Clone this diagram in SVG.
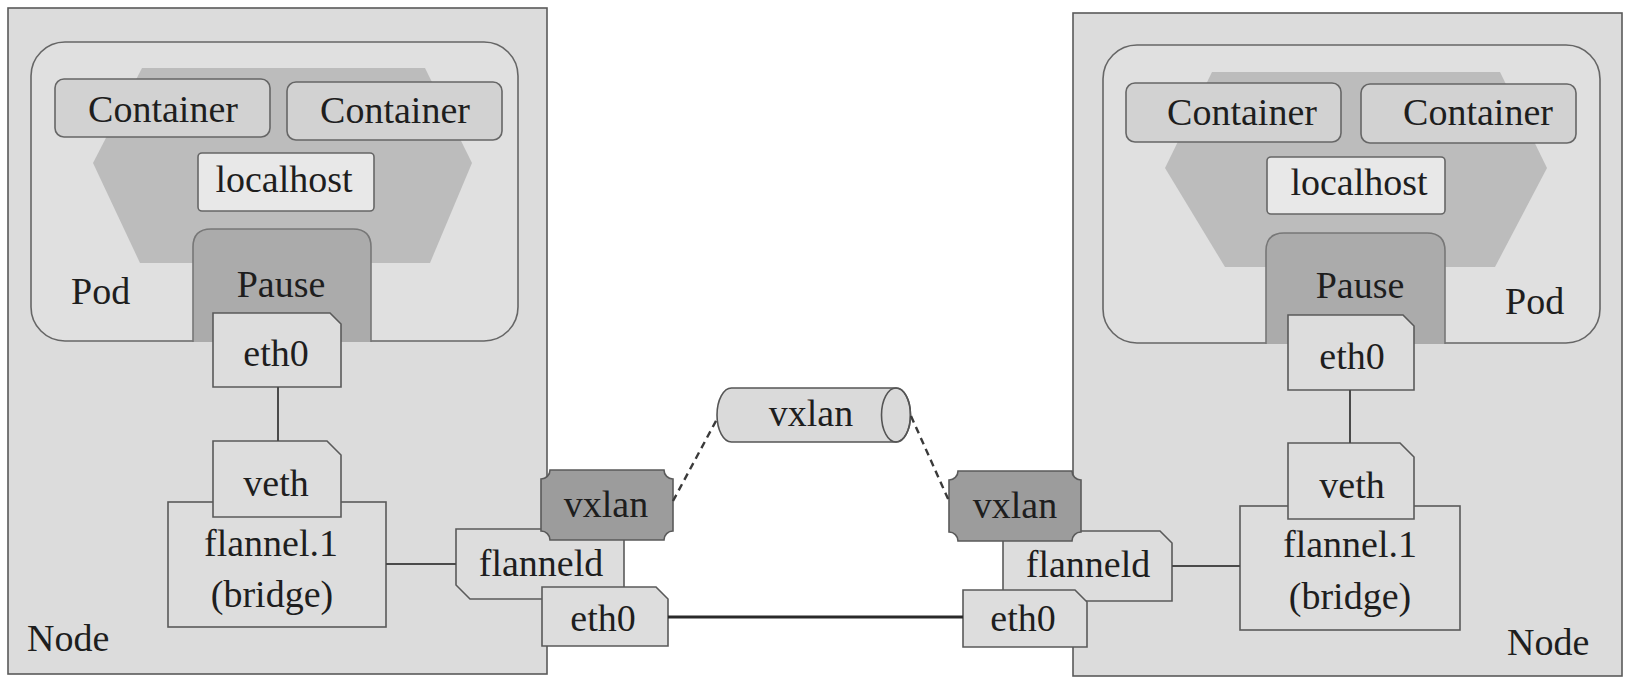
<svg xmlns="http://www.w3.org/2000/svg" width="1632" height="688" viewBox="0 0 1632 688">
<style>
text{font-family:"Liberation Serif","Times New Roman",serif;font-size:38px;fill:#1e1e1e}
.m{text-anchor:middle}
.node{fill:#dcdcdc;stroke:#5a5a5a;stroke-width:1.6}
.pod{fill:#e0e0e0;stroke:#666;stroke-width:1.6}
.hex{fill:#bcbcbc;stroke:none}
.ctr{fill:#d2d2d2;stroke:#666;stroke-width:1.6}
.lh{fill:#e8e8e8;stroke:#666;stroke-width:1.6}
.pause{fill:#ababab;stroke:#777;stroke-width:1.6}
.box{fill:#dddddd;stroke:#5a5a5a;stroke-width:1.6}
.vx{fill:#9c9c9c;stroke:#5a5a5a;stroke-width:1.6}
.cyl{fill:#dadada;stroke:#555;stroke-width:1.6}
.ln{stroke:#4a4a4a;stroke-width:2;fill:none}
.thick{stroke:#2a2a2a;stroke-width:3.2;fill:none}
.dash{stroke:#3a3a3a;stroke-width:2.4;stroke-dasharray:7 5;fill:none}
</style>
<rect width="1632" height="688" fill="#ffffff"/>

<g id="node-left">
<rect class="node" x="8" y="8" width="539" height="666"/>
<text x="27" y="651">Node</text>
</g>
<g id="node-right">
<rect class="node" x="1073" y="13" width="549" height="663"/>
<text x="1507" y="655">Node</text>
</g>

<g id="pod-left">
<rect class="pod" x="31" y="42" width="487" height="299" rx="34"/>
<polygon class="hex" points="142,68 425,68 472,163 430,263 140,263 93,163"/>
<text x="71" y="304">Pod</text>
</g>
<g id="container-l1"><rect class="ctr" x="55" y="79" width="215" height="58" rx="9"/><text class="m" x="163" y="122">Container</text></g>
<g id="container-l2"><rect class="ctr" x="287" y="82" width="215" height="58" rx="9"/><text class="m" x="395" y="123">Container</text></g>
<g id="localhost-l"><rect class="lh" x="198" y="153" width="176" height="58" rx="4"/><text class="m" x="284" y="192">localhost</text></g>
<g id="pause-l"><path class="pause" d="M193,342 V247 Q193,229 211,229 H353 Q371,229 371,247 V342"/><text class="m" x="281" y="297">Pause</text></g>
<g id="eth0-pod-l"><path class="box" d="M213,313 H330 L341,324 V387 H213 Z"/><text class="m" x="276" y="366">eth0</text></g>
<g id="bridge-l"><rect class="box" x="168" y="502" width="218" height="125"/><text class="m" x="271" y="556">flannel.1</text><text class="m" x="272" y="607">(bridge)</text></g>
<g id="veth-l"><path class="box" d="M213,441 H327 L341,455 V517 H213 Z"/><text class="m" x="276" y="496">veth</text></g>
<g id="flanneld-l"><path class="box" d="M456,529 H624 V599 H470 L456,585 Z"/><text class="m" x="541" y="576">flanneld</text></g>
<g id="eth0-l"><path class="box" d="M542,587 H656 L668,599 V646 H542 Z"/><text class="m" x="603" y="631">eth0</text></g>
<g id="vxlan-l"><path class="vx" d="M550,470 H664 A9,9 0 0 0 673,479 V531 A9,9 0 0 0 664,540 H550 A9,9 0 0 0 541,531 V479 A9,9 0 0 0 550,470 Z"/><text class="m" x="606" y="517">vxlan</text></g>

<g id="pod-right">
<rect class="pod" x="1103" y="45" width="497" height="298" rx="34"/>
<polygon class="hex" points="1212,72 1500,72 1547,168 1495,267 1225,267 1165,168"/>
<text x="1505" y="314">Pod</text>
</g>
<g id="container-r1"><rect class="ctr" x="1126" y="83" width="215" height="59" rx="9"/><text class="m" x="1242" y="125">Container</text></g>
<g id="container-r2"><rect class="ctr" x="1361" y="84" width="215" height="59" rx="9"/><text class="m" x="1478" y="125">Container</text></g>
<g id="localhost-r"><rect class="lh" x="1267" y="157" width="178" height="57" rx="4"/><text class="m" x="1359" y="195">localhost</text></g>
<g id="pause-r"><path class="pause" d="M1266,344 V251 Q1266,233 1284,233 H1427 Q1445,233 1445,251 V344"/><text class="m" x="1360" y="298">Pause</text></g>
<g id="eth0-pod-r"><path class="box" d="M1288,315 H1403 L1414,326 V390 H1288 Z"/><text class="m" x="1352" y="369">eth0</text></g>
<g id="bridge-r"><rect class="box" x="1240" y="506" width="220" height="124"/><text class="m" x="1350" y="557">flannel.1</text><text class="m" x="1350" y="609">(bridge)</text></g>
<g id="veth-r"><path class="box" d="M1288,443 H1400 L1414,457 V519 H1288 Z"/><text class="m" x="1352" y="498">veth</text></g>
<g id="flanneld-r"><path class="box" d="M1003,531 H1160 L1172,543 V601 H1003 Z"/><text class="m" x="1088" y="577">flanneld</text></g>
<g id="eth0-r"><path class="box" d="M963,590 H1075 L1087,602 V647 H963 Z"/><text class="m" x="1023" y="631">eth0</text></g>
<g id="vxlan-r"><path class="vx" d="M958,471 H1072 A9,9 0 0 0 1081,480 V532 A9,9 0 0 0 1072,541 H958 A9,9 0 0 0 949,532 V480 A9,9 0 0 0 958,471 Z"/><text class="m" x="1015" y="518">vxlan</text></g>

<g id="vxlan-tunnel">
<path class="cyl" d="M731.5,388 H896 A14.5,27 0 0 1 896,442 H731.5 A14.5,27 0 0 1 731.5,388 Z"/>
<ellipse cx="896" cy="415" rx="14.5" ry="27" fill="none" stroke="#555" stroke-width="1.6"/>
<text class="m" x="811" y="426">vxlan</text>
</g>

<g id="connectors">
<line class="ln" x1="278" y1="387" x2="278" y2="441"/>
<line class="ln" x1="386" y1="564" x2="456" y2="564"/>
<line class="ln" x1="1350" y1="390" x2="1350" y2="443"/>
<line class="ln" x1="1172" y1="566" x2="1240" y2="566"/>
<line class="thick" x1="668" y1="617" x2="963" y2="617"/>
<line class="dash" x1="673" y1="501" x2="717" y2="419"/>
<line class="dash" x1="911" y1="416" x2="949" y2="501"/>
</g>
</svg>
